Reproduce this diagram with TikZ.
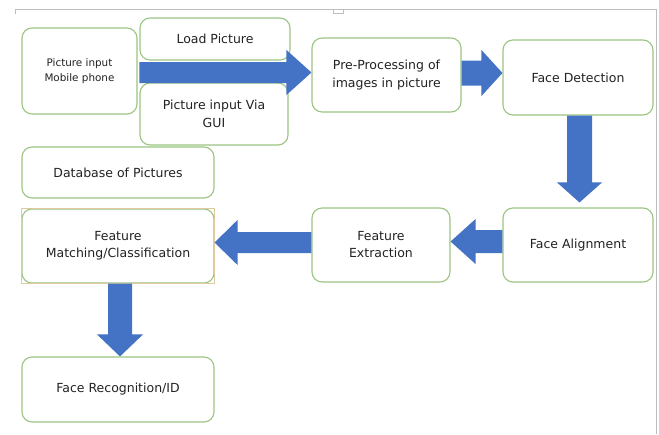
\documentclass[tikz,border=0pt]{standalone}
\usepackage{fontspec}
\setmainfont{DejaVu Sans}
\usetikzlibrary{calc}
\definecolor{boxgreen}{HTML}{9CC482}
\definecolor{arrowblue}{HTML}{4472C4}
\definecolor{txtgray}{HTML}{222222}
\definecolor{framegray}{HTML}{BDBDBD}
\definecolor{seltan}{HTML}{E0CBA0}
\newcommand\blockarrow[5]{%
  \coordinate (ba-h) at ($(#2)!#5!(#1)$);
  \fill[arrowfill] ($(#1)!#3!90:(#2)$) -- ($(ba-h)!#3!-90:(#1)$) -- ($(ba-h)!#4!-90:(#1)$) -- (#2)
    -- ($(ba-h)!#4!90:(#1)$) -- ($(ba-h)!#3!90:(#1)$) -- ($(#1)!#3!-90:(#2)$) -- cycle;}
\begin{document}
\begin{tikzpicture}[x=1pt,y=-1pt,
  flowbox/.style={draw=boxgreen, line width=1.1pt, rounded corners=10pt, fill=white,
    text=txtgray, align=center, font=\fontsize{12.5}{18}\selectfont, inner sep=2pt},
  arrowfill/.style={fill=arrowblue}]
\useasboundingbox (0,0) rectangle (659,434);
% page frame
\draw[framegray, line width=0.8pt] (15,14) -- (15,9) -- (656,9) -- (656,434);
\draw[framegray, line width=0.6pt] (333,9) -- (333,13) -- (343,13) -- (343,9);
% boxes
\node[flowbox, minimum width=115pt, minimum height=86pt, font=\fontsize{10.4}{15}\selectfont] (mob) at (79.5,71) {Picture input\\Mobile phone};
\node[flowbox, minimum width=150pt, minimum height=42pt] (load) at (215,39) {Load Picture};
\node[flowbox, minimum width=148pt, minimum height=62pt] (gui) at (214,114) {Picture input Via\\GUI};
\node[flowbox, minimum width=192pt, minimum height=51pt] (db) at (118,172.5) {Database of Pictures};
\node[flowbox, minimum width=149pt, minimum height=74pt] (pre) at (386.5,75) {Pre-Processing of\\images in picture};
\node[flowbox, minimum width=150pt, minimum height=75pt] (fd) at (578,77.5) {Face Detection};
\node[flowbox, minimum width=150pt, minimum height=74pt] (fa) at (578,245) {Face Alignment};
\node[flowbox, minimum width=138pt, minimum height=74pt, font=\fontsize{12.5}{17}\selectfont] (fe) at (381,245) {Feature\\Extraction};
\node[flowbox, minimum width=192pt, minimum height=74pt, font=\fontsize{12.5}{17}\selectfont] (fm) at (118,246) {Feature\\Matching/Classification};
\draw[seltan, line width=0.5pt] (fm.south west) rectangle (fm.north east);
\node[flowbox, minimum width=192pt, minimum height=65pt] (fr) at (118,389.5) {Face Recognition/ID};
% block arrows
\coordinate (a1s) at ($(load.west)+(0,33.5)$);
\coordinate (a1e) at (a1s -| pre.west);
\blockarrow{a1s}{a1e}{10.5pt}{22.5pt}{25pt}
\coordinate (a2s) at ($(pre.east)+(0,-2)$);
\coordinate (a2e) at (a2s -| fd.west);
\blockarrow{a2s}{a2e}{12.5pt}{23pt}{21pt}
\coordinate (a3s) at ($(fd.south)+(1.5,0)$);
\coordinate (a3e) at ($(fa.north)+(1.5,-5)$);
\blockarrow{a3s}{a3e}{12.5pt}{22.5pt}{20pt}
\coordinate (a4s) at ($(fa.west)+(0,-3.5)$);
\coordinate (a4e) at (a4s -| fe.east);
\blockarrow{a4s}{a4e}{11.5pt}{22.5pt}{25pt}
\coordinate (a5s) at ($(fe.west)+(0,-2.5)$);
\coordinate (a5e) at (a5s -| fm.east);
\blockarrow{a5s}{a5e}{10.5pt}{22.5pt}{23pt}
\coordinate (a6s) at ($(fm.south)+(2,0)$);
\coordinate (a6e) at ($(fr.north)+(2,0)$);
\blockarrow{a6s}{a6e}{12pt}{23pt}{22pt}
\end{tikzpicture}
\end{document}
